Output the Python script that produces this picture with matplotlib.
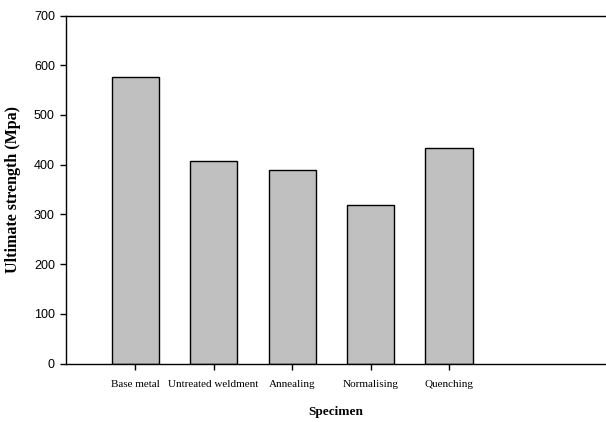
import matplotlib.pyplot as plt
import numpy as np

# данные
specimens = ['Base metal', 'Untreated weldment', 'Annealing', 'Normalising', 'Quenching']
strength = [577, 407, 389, 319, 433]
yticks = [0, 100, 200, 300, 400, 500, 600, 700]

fig = plt.figure(figsize=(6.06, 4.22), dpi=100)
ax = fig.add_axes([66/606, 1 - 363.5/422, 1 - 66/606, 348/422])

x = np.arange(len(specimens))
ax.bar(x, strength, width=0.6, color='#c0c0c0', edgecolor='black', linewidth=1)

ax.set_xlim(-0.88, 6.0)
ax.set_ylim(0, 700)
ax.set_yticks(yticks)
ax.set_xticks(x)
ax.set_xticklabels(specimens, family='Liberation Serif', fontsize=8)
for lab in ax.get_yticklabels():
    lab.set_family('Liberation Sans')
    lab.set_fontsize(9)

ax.spines['right'].set_visible(False)
for s in ['left', 'bottom', 'top']:
    ax.spines[s].set_linewidth(1)
ax.tick_params(direction='out', length=4, width=1)
ax.tick_params(axis='y', pad=4)
ax.tick_params(axis='x', pad=8)

ax.set_xlabel('Specimen', family='Liberation Serif', fontsize=9.5, fontweight='bold', labelpad=12)
ax.set_ylabel('Ultimate strength (Mpa)', family='Liberation Serif', fontsize=11.5, fontweight='bold', labelpad=9)

plt.savefig('out.png', dpi=100)
